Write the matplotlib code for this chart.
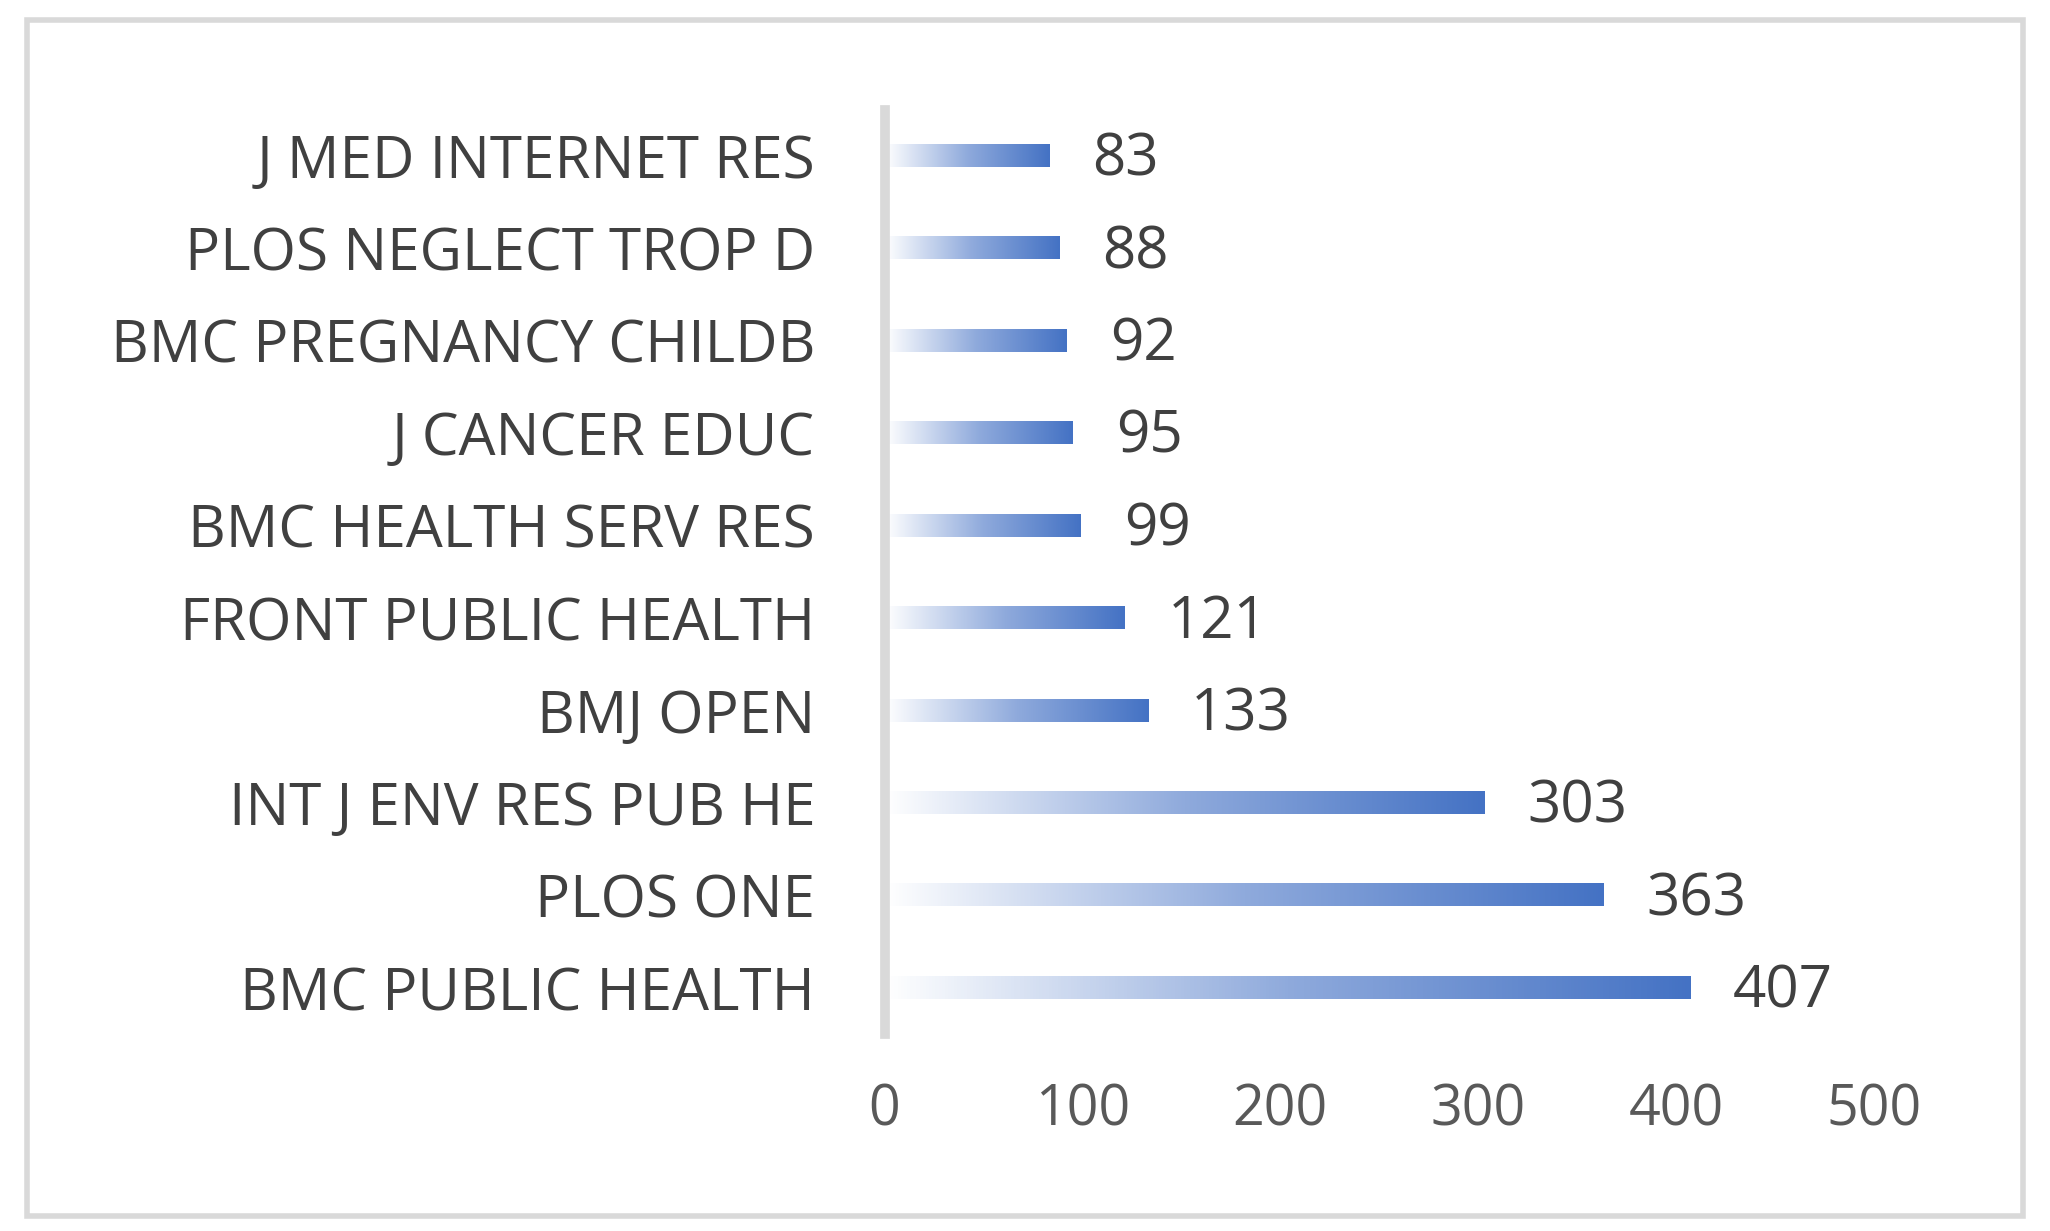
import matplotlib
matplotlib.use("Agg")
import matplotlib.pyplot as plt
import numpy as np
from matplotlib.colors import LinearSegmentedColormap
from matplotlib.patches import Rectangle

journals = ["BMC PUBLIC HEALTH", "PLOS ONE", "INT J ENV RES PUB HE", "BMJ OPEN",
            "FRONT PUBLIC HEALTH", "BMC HEALTH SERV RES", "J CANCER EDUC",
            "BMC PREGNANCY CHILDB", "PLOS NEGLECT TROP D", "J MED INTERNET RES"]
counts = [407, 363, 303, 133, 121, 99, 95, 92, 88, 83]
xticks = [0, 100, 200, 300, 400, 500]

plt.rcParams['font.family'] = ['Open Sans', 'DejaVu Sans']
fig = plt.figure(figsize=(20.5, 12.31), dpi=100)
fig.patches.append(Rectangle((0.013, 0.012), 0.974, 0.972, transform=fig.transFigure,
                             fill=False, edgecolor='#d9d9d9', linewidth=4))
ax = fig.add_axes([0.4315, 0.16, 0.4825, 0.751])
cmap = LinearSegmentedColormap.from_list("g", ["#ffffff", "#8faadc", "#4472C4"])
grad = np.linspace(0, 1, 256).reshape(1, -1)
h = 0.24
for i, (name, v) in enumerate(zip(journals, counts)):
    ax.imshow(grad, cmap=cmap, extent=(0, v, i - h / 2, i + h / 2), aspect='auto', zorder=2)
    ax.text(v + 22, i - 0.05, str(v), va='center', ha='left', fontsize=42, color='#404040')
ax.set_xlim(0, 500)
ax.set_ylim(-0.5, 9.5)
ax.set_yticks(range(len(journals)))
ax.set_yticklabels(journals, fontsize=42, color='#404040')
ax.set_xticks(xticks)
ax.set_xticklabels([str(t) for t in xticks], fontsize=40, color='#595959')
ax.tick_params(length=0, pad=50, axis='y')
ax.tick_params(length=0, pad=35, axis='x')
for s in ['top', 'right', 'bottom']:
    ax.spines[s].set_visible(False)
ax.spines['left'].set_color('#d9d9d9')
ax.spines['left'].set_linewidth(7)
fig.savefig("out.png", dpi=100)
